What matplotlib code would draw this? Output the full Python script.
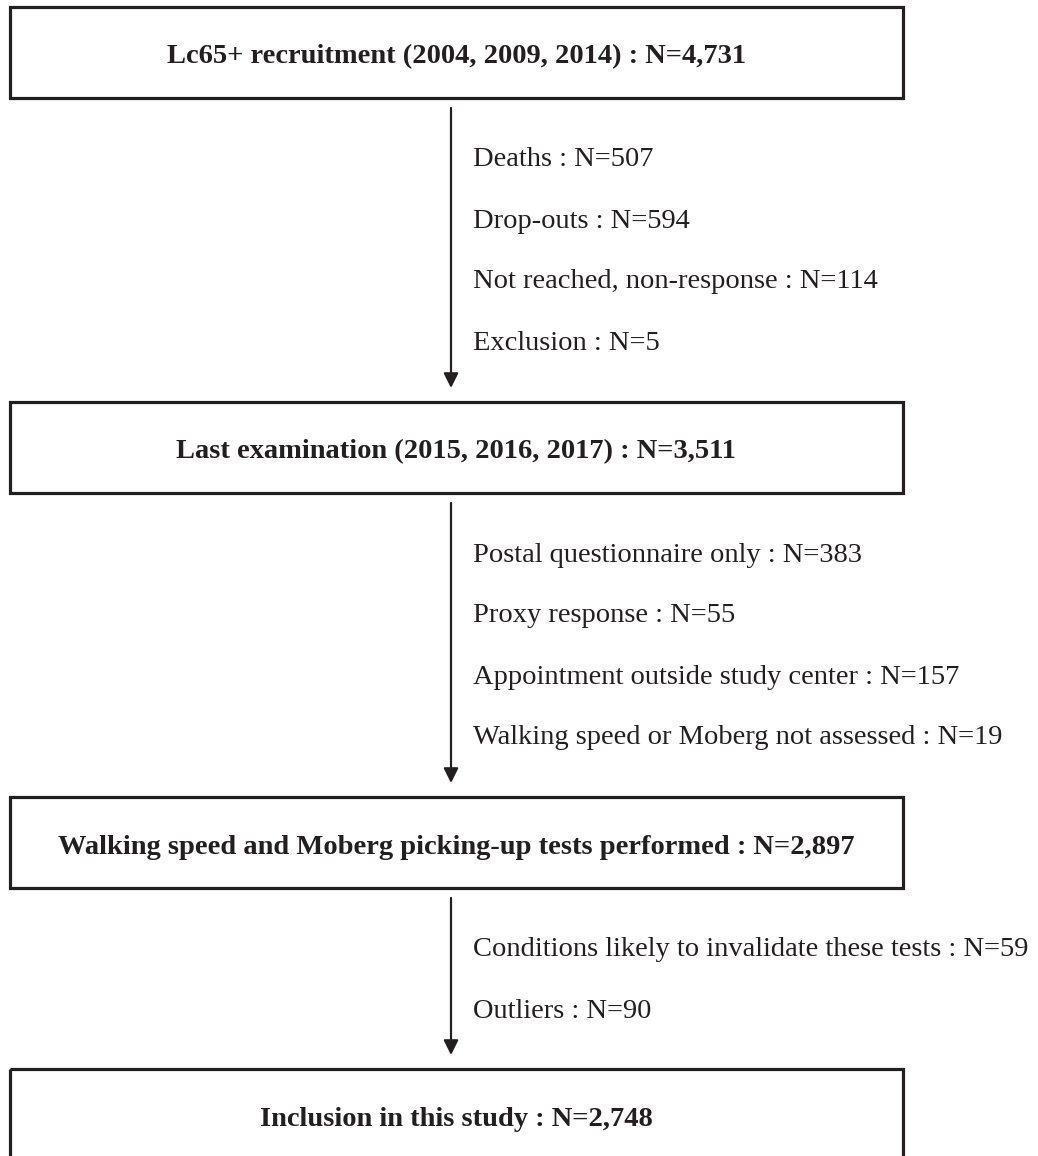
import matplotlib.pyplot as plt
from matplotlib.patches import Rectangle

# flow stages and exclusions between them
stages = [
    "Lc65+ recruitment (2004, 2009, 2014) : N=4,731",
    "Last examination (2015, 2016, 2017) : N=3,511",
    "Walking speed and Moberg picking-up tests performed : N=2,897",
    "Inclusion in this study : N=2,748",
]
exclusions = [
    ["Deaths : N=507", "Drop-outs : N=594",
     "Not reached, non-response : N=114", "Exclusion : N=5"],
    ["Postal questionnaire only : N=383", "Proxy response : N=55",
     "Appointment outside study center : N=157",
     "Walking speed or Moberg not assessed : N=19"],
    ["Conditions likely to invalidate these tests : N=59", "Outliers : N=90"],
]

# layout in pixels
box_left, box_right = 10, 903
box_tops = [7, 402, 797, 1069]
box_h = 91
arrow_x = 451
text_x = 473
line_gap = 61

plt.rcParams['font.family'] = ['Liberation Serif', 'DejaVu Serif']

fig = plt.figure(figsize=(10.38, 11.56), dpi=100)
ax = fig.add_axes([0, 0, 1, 1])
ax.set_xlim(0, 1038)
ax.set_ylim(1156, 0)
ax.axis('off')

for i, label in enumerate(stages):
    top = box_tops[i]
    ax.add_patch(Rectangle((box_left, top), box_right - box_left, box_h,
                           fill=False, edgecolor='#231f20', linewidth=2.3))
    ax.text((box_left + box_right) / 2, top + 50, label, ha='center', va='center',
            fontsize=20.5, fontweight='bold', color='#231f20')

for i, items in enumerate(exclusions):
    start = box_tops[i] + box_h + 10
    end = box_tops[i + 1] - 14
    ax.annotate('', xy=(arrow_x, end), xytext=(arrow_x, start),
                arrowprops=dict(arrowstyle='-|>', color='#231f20', lw=1.6,
                                mutation_scale=22, shrinkA=0, shrinkB=0))
    for j, item in enumerate(items):
        ax.text(text_x, start + 52 + j * line_gap, item, ha='left', va='center',
                fontsize=20.5, color='#231f20')

fig.savefig('out.png', dpi=100)
